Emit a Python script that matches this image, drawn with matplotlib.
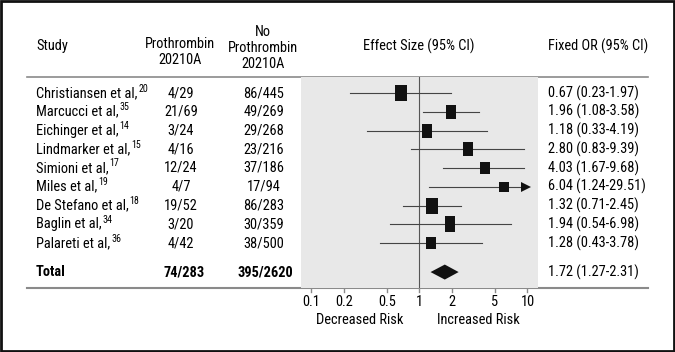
import matplotlib.pyplot as plt
from matplotlib.patches import Polygon, Rectangle
import numpy as np

# Study data
studies = [
    "Christiansen et al,", "Marcucci et al,", "Eichinger et al,",
    "Lindmarker et al,", "Simioni et al,", "Miles et al,",
    "De Stefano et al,", "Baglin et al,", "Palareti et al,",
]
refs = ["20", "35", "14", "15", "17", "19", "18", "34", "36"]
with_mut = ["4/29", "21/69", "3/24", "4/16", "12/24", "4/7", "19/52", "3/20", "4/42"]
without_mut = ["86/445", "49/269", "29/268", "23/216", "37/186", "17/94",
               "86/283", "30/359", "38/500"]
odds = [0.67, 1.96, 1.18, 2.80, 4.03, 6.04, 1.32, 1.94, 1.28]
ci_low = [0.23, 1.08, 0.33, 0.83, 1.67, 1.24, 0.71, 0.54, 0.43]
ci_high = [1.97, 3.58, 4.19, 9.39, 9.68, 29.51, 2.45, 6.98, 3.78]

total_with = "74/283"
total_without = "395/2620"
total_or, total_low, total_high = 1.72, 1.27, 2.31

x_ticks = [0.1, 0.2, 0.5, 1, 2, 5, 10]
x_tick_labels = ["0.1", "0.2", "0.5", "1", "2", "5", "10"]

# box sizes (px): width, height
box_w = [8.7, 7.7, 7.7, 7.7, 7.3, 7.3, 8.7, 6.7, 7.3]
box_h = [11.7, 10.7, 10.3, 10.7, 9.3, 7.7, 12.0, 11.7, 9.3]

FONT = ["Roboto Condensed", "Liberation Sans", "DejaVu Sans"]
plt.rcParams["font.family"] = FONT

W, H = 675, 352
fig = plt.figure(figsize=(W / 100, H / 100), dpi=100)

# overlay axes in pixel coordinates for the table part
bg = fig.add_axes([0, 0, 1, 1])
bg.set_xlim(0, W)
bg.set_ylim(H, 0)
bg.axis("off")

# forest axes
left_px, right_px, top_px, bot_px = 301, 538, 77, 288
xlo, xhi = 0.0805, 12.52
ax = fig.add_axes([left_px / W, (H - bot_px) / H,
                   (right_px - left_px) / W, (bot_px - top_px) / H])
ax.set_xscale("log")
ax.set_xlim(xlo, xhi)
row0, step = 93, 18.75
n = len(studies)
total_row = 9.55
ax.set_ylim((bot_px - row0) / step, (top_px - row0) / step)
ax.set_facecolor("#e8e8e8")
for s in ax.spines.values():
    s.set_visible(False)
ax.set_xticks([])
ax.set_yticks([])
ax.minorticks_off()
ax.tick_params(which="both", length=0, labelbottom=False, labelleft=False)

ax.axvline(1, color="#555555", lw=0.8)

rows = np.arange(n)
for i in rows:
    hi = min(ci_high[i], 9.3)
    ax.plot([ci_low[i], hi], [i, i], color="#444444", lw=0.8)
    if ci_high[i] > 10:
        ax.plot([9.8], [i], marker=">", color="#111111", markersize=7,
                markeredgewidth=0)
    w, h = box_w[i], box_h[i]
    ax.plot([odds[i]], [i], color="#111111", linestyle="none",
            marker=[(-w / 2, -h / 2), (w / 2, -h / 2), (w / 2, h / 2), (-w / 2, h / 2)],
            markersize=max(w, h), markeredgewidth=0)

dh = 7.5 / step
ax.add_patch(Polygon([(total_low, total_row), (total_or, total_row - dh),
                      (total_high, total_row), (total_or, total_row + dh)],
                     closed=True, color="#111111", lw=0))

# horizontal rules
bg.plot([27, 648], [77, 77], color="#8a8a8a", lw=1.2)
bg.plot([27, 648], [288, 288], color="#8a8a8a", lw=1.5)

fs = 10.4

# x ticks drawn in pixel space from the log scale
px_per_dec = (right_px - left_px) / (np.log10(xhi) - np.log10(xlo))
for t, lab in zip(x_ticks, x_tick_labels):
    xp = left_px + (np.log10(t) - np.log10(xlo)) * px_per_dec
    bg.plot([xp, xp], [288, 292], color="#8a8a8a", lw=1)
    bg.text(xp, 302, lab, ha="center", va="center", fontsize=fs)

bg.text(360, 320, "Decreased Risk", ha="center", va="center", fontsize=fs)
bg.text(478, 320, "Increased Risk", ha="center", va="center", fontsize=fs)

# headers
bg.text(36, 46, "Study", ha="left", va="center", fontsize=fs)
bg.text(180, 52, "Prothrombin\n20210A", ha="center", va="center",
        fontsize=fs, linespacing=1.15)
bg.text(263, 48, "No\nProthrombin\n20210A", ha="center", va="center",
        fontsize=fs, linespacing=1.15)
bg.text(419, 46, "Effect Size (95% CI)", ha="center", va="center", fontsize=fs)
bg.text(548, 46, "Fixed OR (95% CI)", ha="left", va="center", fontsize=fs)

renderer = fig.canvas.get_renderer()
for i in rows:
    y = row0 + step * i
    t = bg.text(36, y, studies[i], ha="left", va="center", fontsize=fs)
    bb = t.get_window_extent(renderer)
    bg.text(bb.x1 + 1, y - 4.5, refs[i], ha="left", va="center", fontsize=7.2)
    bg.text(181, y, with_mut[i], ha="center", va="center", fontsize=fs)
    bg.text(264, y, without_mut[i], ha="center", va="center", fontsize=fs)
    bg.text(548, y, f"{odds[i]:.2f} ({ci_low[i]:.2f}-{ci_high[i]:.2f})",
            ha="left", va="center", fontsize=fs)

yt = row0 + step * total_row
bg.text(36, yt, "Total", ha="left", va="center", fontsize=fs, fontweight="bold")
bg.text(184, yt, total_with, ha="center", va="center", fontsize=fs,
        fontweight="bold")
bg.text(265, yt, total_without, ha="center", va="center", fontsize=fs,
        fontweight="bold")
bg.text(548, yt, f"{total_or:.2f} ({total_low:.2f}-{total_high:.2f})",
        ha="left", va="center", fontsize=fs)

# outer frame
bg.add_patch(Rectangle((0.5, 0.5), W - 1.5, H - 1.5, fill=False,
                       edgecolor="#111111", lw=2, clip_on=False))

fig.savefig("out.png", dpi=100)
